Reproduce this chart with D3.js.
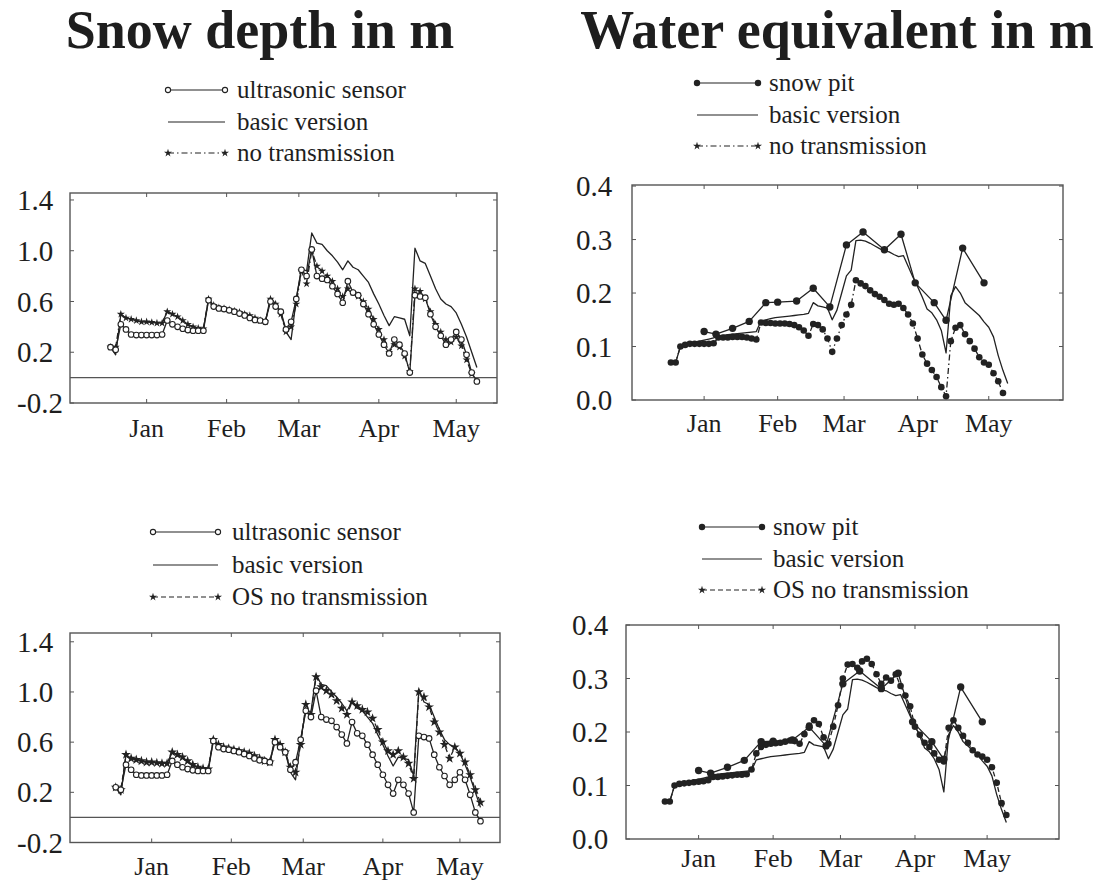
<!DOCTYPE html>
<html>
<head>
<meta charset="utf-8">
<script src="https://cdn.jsdelivr.net/npm/d3@7"></script>
<style>
  html, body { margin: 0; padding: 0; background: #fff; }
  svg text { font-family: "Liberation Serif", "DejaVu Serif", serif; fill: #1e1e1e; }
</style>
</head>
<body>
<svg id="chart" width="1102" height="884"></svg>
<script>
// Day numbers counted from 1 January; one sample every second day.
const days = [-14,-12,-10,-8,-6,-4,-2,0,2,4,6,8,10,12,14,16,18,20,22,24,
  26,28,30,32,34,36,38,40,42,44,46,48,50,52,54,56,58,60,62,64,
  66,68,70,72,74,76,78,80,82,84,86,88,90,92,94,96,98,100,102,104,
  106,108,110,112,114,116,118,120,122,124,126,128];

// Snow depth (m)
const depthSensor = [0.24,0.22,0.42,0.38,0.34,0.335,0.335,0.335,0.335,0.335,
  0.34,0.45,0.42,0.40,0.385,0.375,0.37,0.37,0.37,0.61,
  0.56,0.545,0.54,0.53,0.52,0.505,0.49,0.47,0.455,0.45,
  0.44,0.60,0.56,0.52,0.38,0.44,0.62,0.85,0.80,1.01,
  0.80,0.78,0.77,0.72,0.66,0.59,0.76,0.67,0.65,0.58,
  0.50,0.42,0.34,0.26,0.19,0.30,0.26,0.19,0.04,0.65,
  0.64,0.63,0.50,0.40,0.33,0.26,0.30,0.36,0.30,0.18,
  0.04,-0.03];
const depthBasic = [0.24,0.18,0.50,0.47,0.46,0.45,0.44,0.44,0.435,0.43,
  0.43,0.52,0.50,0.48,0.45,0.42,0.40,0.39,0.385,0.62,
  0.57,0.55,0.545,0.535,0.525,0.515,0.50,0.49,0.47,0.45,
  0.44,0.63,0.58,0.52,0.36,0.30,0.62,0.86,0.84,1.14,
  1.06,1.05,1.00,0.96,0.91,0.85,0.92,0.87,0.85,0.80,
  0.75,0.66,0.58,0.49,0.41,0.48,0.47,0.46,0.33,1.02,
  0.92,0.90,0.80,0.70,0.62,0.58,0.56,0.51,0.42,0.32,
  0.20,0.08];
const depthNoTrans = [0.24,0.24,0.50,0.47,0.46,0.45,0.44,0.44,0.435,0.43,
  0.43,0.52,0.50,0.48,0.45,0.42,0.40,0.39,0.385,0.62,
  0.57,0.55,0.545,0.535,0.525,0.515,0.50,0.49,0.47,0.45,
  0.44,0.62,0.58,0.50,0.36,0.40,0.58,0.84,0.74,1.00,
  0.88,0.84,0.80,0.76,0.70,0.64,0.70,0.67,0.64,0.60,
  0.54,0.46,0.38,0.30,0.20,0.26,0.24,0.17,0.05,0.70,
  0.68,0.62,0.52,0.42,0.36,0.30,0.28,0.32,0.25,0.14,
  0.03,null];
const depthOSNoTrans = [0.24,0.22,0.50,0.47,0.46,0.45,0.44,0.44,0.435,0.43,
  0.43,0.52,0.50,0.48,0.45,0.42,0.40,0.39,0.385,0.62,
  0.58,0.56,0.55,0.54,0.53,0.52,0.51,0.49,0.47,0.45,
  0.44,0.62,0.58,0.52,0.40,0.36,0.58,0.90,0.82,1.12,
  1.04,1.01,0.98,0.93,0.87,0.82,0.92,0.89,0.86,0.84,
  0.79,0.70,0.60,0.53,0.50,0.53,0.48,0.43,0.31,1.00,
  0.96,0.88,0.76,0.68,0.58,0.47,0.56,0.51,0.44,0.34,
  0.22,0.12];

// Water equivalent (m)
const sweBasic = [0.07,0.07,0.10,0.104,0.106,0.108,0.11,0.112,0.114,0.116,
  0.12,0.121,0.122,0.123,0.124,0.125,0.126,0.127,0.128,0.148,
  0.15,0.152,0.154,0.155,0.156,0.157,0.158,0.159,0.16,0.162,
  0.182,0.176,0.174,0.172,0.15,0.168,0.20,0.232,0.243,0.298,
  0.299,0.297,0.293,0.288,0.283,0.279,0.277,0.272,0.268,0.27,
  0.25,0.23,0.212,0.192,0.17,0.163,0.15,0.13,0.088,0.195,
  0.212,0.20,0.182,0.174,0.166,0.158,0.146,0.136,0.118,0.083,
  0.055,0.031];
const sweNoTrans = [0.07,0.07,0.10,0.103,0.105,0.105,0.105,0.105,0.105,0.106,
  0.117,0.117,0.117,0.118,0.118,0.118,0.117,0.115,0.113,0.145,
  0.144,0.144,0.143,0.143,0.143,0.142,0.14,0.136,0.13,0.12,
  0.142,0.14,0.132,0.115,0.09,0.115,0.14,0.16,0.178,0.224,
  0.218,0.213,0.205,0.198,0.193,0.187,0.18,0.178,0.18,0.172,
  0.16,0.143,0.115,0.085,0.068,0.056,0.043,0.024,0.007,0.11,
  0.135,0.14,0.123,0.11,0.096,0.08,0.07,0.066,0.05,0.035,
  0.013,null];
const sweOSNoTrans = [0.07,0.07,0.10,0.103,0.104,0.105,0.106,0.107,0.108,0.11,
  0.116,0.116,0.117,0.118,0.119,0.12,0.12,0.121,0.13,0.16,
  0.172,0.176,0.178,0.179,0.18,0.182,0.184,0.183,0.178,0.196,
  0.212,0.222,0.215,0.19,0.178,0.21,0.25,0.30,0.326,0.327,
  0.32,0.332,0.337,0.327,0.308,0.29,0.302,0.296,0.308,0.286,
  0.268,0.248,0.21,0.195,0.18,0.172,0.16,0.148,0.145,0.208,
  0.222,0.208,0.193,0.18,0.166,0.158,0.154,0.148,0.134,0.105,
  0.067,0.045];

// Snow pit measurements
const pitDays = [0,5,12,19,26,31,39,46,53,60,67,76,83,89,97,102,109,118];
const pitSWE = [0.128,0.123,0.134,0.147,0.182,0.183,0.185,0.209,0.174,0.29,0.314,0.281,0.31,0.219,0.182,0.149,0.284,0.219];

// Axis ticks
const monthDays = [0,31,59,90,120];
const monthLabels = ["Jan","Feb","Mar","Apr","May"];
const depthTicks = [-0.2,0.2,0.6,1.0,1.4];
const sweTicks = [0.0,0.1,0.2,0.3,0.4];

const INK = "#222";
const svg = d3.select("#chart");
svg.append("rect").attr("width",1102).attr("height",884).attr("fill","#fff");

// Titles
svg.append("text").attr("x",260).attr("y",48).attr("text-anchor","middle")
  .attr("font-size",54).attr("font-weight","bold").text("Snow depth in m");
svg.append("text").attr("x",837).attr("y",48).attr("text-anchor","middle")
  .attr("font-size",54).attr("font-weight","bold").text("Water equivalent in m");

// one decimal, plain hyphen for negatives
const fmt = t => d3.format(".1f")(t).replace("\u2212", "-");
const starSmall = d3.symbol().type(d3.symbolStar).size(20);
const starBig = d3.symbol().type(d3.symbolStar).size(30);

function seriesOf(vals) {
  return days.map((d, i) => ({d, v: vals[i]})).filter(p => p.v != null);
}

function drawPanel(cfg) {
  const x = d3.scaleLinear().domain(cfg.xDomain).range([cfg.left, cfg.right]);
  const y = d3.scaleLinear().domain(cfg.yDomain).range([cfg.bottom, cfg.top]);
  const g = svg.append("g");

  // frame
  g.append("rect").attr("x",cfg.left).attr("y",cfg.top)
    .attr("width",cfg.right-cfg.left).attr("height",cfg.bottom-cfg.top)
    .attr("fill","none").attr("stroke","#555").attr("stroke-width",1.4);

  // inner tick marks on all four sides
  const tk = 4;
  cfg.yTicks.forEach(t => {
    g.append("line").attr("x1",cfg.left).attr("x2",cfg.left+tk).attr("y1",y(t)).attr("y2",y(t)).attr("stroke","#555");
    g.append("line").attr("x1",cfg.right).attr("x2",cfg.right-tk).attr("y1",y(t)).attr("y2",y(t)).attr("stroke","#555");
  });
  monthDays.forEach(m => {
    g.append("line").attr("x1",x(m)).attr("x2",x(m)).attr("y1",cfg.top).attr("y2",cfg.top+tk).attr("stroke","#555");
    g.append("line").attr("x1",x(m)).attr("x2",x(m)).attr("y1",cfg.bottom).attr("y2",cfg.bottom-tk).attr("stroke","#555");
  });

  // tick labels
  g.selectAll(".yl").data(cfg.yTicks).enter().append("text")
    .attr("x",cfg.labelX).attr("y",t => y(t)).attr("dy","0.35em")
    .attr("font-size",29).text(t => fmt(t));
  g.selectAll(".ml").data(monthDays).enter().append("text")
    .attr("x",m => x(m)).attr("y",cfg.monthY).attr("text-anchor","middle")
    .attr("font-size",26).text((m,i) => monthLabels[i]);

  // zero line
  if (cfg.zeroLine) {
    g.append("line").attr("x1",cfg.left).attr("x2",cfg.right)
      .attr("y1",y(0)).attr("y2",y(0)).attr("stroke","#555").attr("stroke-width",1.4);
  }

  const line = d3.line().x(p => x(p.d)).y(p => y(p.v));

  cfg.series.forEach(s => {
    const pts = s.points;
    g.append("path").attr("d", line(pts)).attr("fill","none")
      .attr("stroke",INK).attr("stroke-width",s.width || 1.3)
      .attr("stroke-dasharray", s.dash || null).attr("stroke-linejoin","round");
    if (s.marker === "open") {
      g.selectAll(null).data(pts).enter().append("circle")
        .attr("cx",p => x(p.d)).attr("cy",p => y(p.v)).attr("r",2.8)
        .attr("fill","#fff").attr("stroke",INK).attr("stroke-width",1.1);
    } else if (s.marker === "dot") {
      g.selectAll(null).data(pts).enter().append("circle")
        .attr("cx",p => x(p.d)).attr("cy",p => y(p.v)).attr("r",s.r || 3)
        .attr("fill",INK);
    } else if (s.marker === "star") {
      const sym = s.big ? starBig : starSmall;
      g.selectAll(null).data(pts).enter().append("path")
        .attr("d",sym).attr("transform",p => `translate(${x(p.d)},${y(p.v)})`)
        .attr("fill",INK);
    }
  });
}

function drawLegend(cfg) {
  const g = svg.append("g");
  cfg.rows.forEach(r => {
    g.append("line").attr("x1",cfg.x0).attr("x2",cfg.x1).attr("y1",r.y).attr("y2",r.y)
      .attr("stroke",INK).attr("stroke-width",1.2).attr("stroke-dasharray",r.dash || null);
    [cfg.x0, cfg.x1].forEach(xx => {
      if (r.marker === "open") {
        g.append("circle").attr("cx",xx).attr("cy",r.y).attr("r",2.6)
          .attr("fill","#fff").attr("stroke",INK).attr("stroke-width",1.1);
      } else if (r.marker === "dot") {
        g.append("circle").attr("cx",xx).attr("cy",r.y).attr("r",3.2).attr("fill",INK);
      } else if (r.marker === "star") {
        g.append("path").attr("d",starSmall).attr("transform",`translate(${xx},${r.y})`).attr("fill",INK);
      }
    });
    g.append("text").attr("x",cfg.xText).attr("y",r.y).attr("dy","0.3em")
      .attr("font-size",25).text(r.label);
  });
}

// Snow depth, standard run
drawPanel({
  left:70, right:497, top:193, bottom:403, labelX:17, monthY:437,
  xDomain:[-29.7,135.8], yDomain:[-0.2,1.455], yTicks:depthTicks, zeroLine:true,
  series:[
    {points:seriesOf(depthNoTrans), dash:"6,3,1.5,3", marker:"star"},
    {points:seriesOf(depthBasic)},
    {points:seriesOf(depthSensor), marker:"open"}
  ]
});
drawLegend({x0:168, x1:225, xText:237, rows:[
  {label:"ultrasonic sensor", y:90, marker:"open"},
  {label:"basic version", y:122},
  {label:"no transmission", y:153, marker:"star", dash:"6,3,1.5,3"}
]});

// Water equivalent, standard run
drawPanel({
  left:632, right:1063, top:185, bottom:400, labelX:576, monthY:432,
  xDomain:[-30.4,151.3], yDomain:[0,0.402], yTicks:sweTicks, zeroLine:false,
  series:[
    {points:seriesOf(sweNoTrans), dash:"6,3,1.5,3", marker:"dot", r:3.3},
    {points:seriesOf(sweBasic)},
    {points:pitDays.map((d,i) => ({d, v:pitSWE[i]})), marker:"dot", r:3.7}
  ]
});
drawLegend({x0:697, x1:758, xText:769, rows:[
  {label:"snow pit", y:83, marker:"dot"},
  {label:"basic version", y:115},
  {label:"no transmission", y:146, marker:"star", dash:"6,3,1.5,3"}
]});

// Snow depth, OS run
drawPanel({
  left:70, right:500, top:633, bottom:842.5, labelX:17, monthY:875,
  xDomain:[-31.8,135.6], yDomain:[-0.2,1.47], yTicks:depthTicks, zeroLine:true,
  series:[
    {points:seriesOf(depthOSNoTrans), dash:"5,3", marker:"star", big:true},
    {points:seriesOf(depthBasic)},
    {points:seriesOf(depthSensor), marker:"open"}
  ]
});
drawLegend({x0:153, x1:218, xText:232, rows:[
  {label:"ultrasonic sensor", y:532, marker:"open"},
  {label:"basic version", y:565},
  {label:"OS no transmission", y:597, marker:"star", dash:"5,3"}
]});

// Water equivalent, OS run
drawPanel({
  left:626, right:1059, top:625, bottom:839, labelX:572, monthY:867,
  xDomain:[-30.2,149.9], yDomain:[0,0.4], yTicks:sweTicks, zeroLine:false,
  series:[
    {points:seriesOf(sweOSNoTrans), dash:"5,3", marker:"dot", r:3.3},
    {points:seriesOf(sweBasic)},
    {points:pitDays.map((d,i) => ({d, v:pitSWE[i]})), marker:"dot", r:3.7}
  ]
});
drawLegend({x0:702, x1:762, xText:773, rows:[
  {label:"snow pit", y:527, marker:"dot"},
  {label:"basic version", y:559},
  {label:"OS no transmission", y:590, marker:"star", dash:"5,3"}
]});
</script>
</body>
</html>
